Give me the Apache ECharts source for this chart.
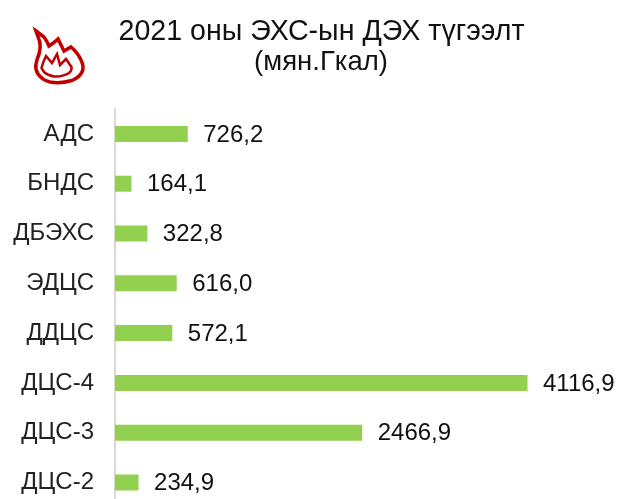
<!DOCTYPE html>
<html><head><meta charset="utf-8">
<style>html,body{margin:0;padding:0;background:#fff}#c{width:619px;height:499px}</style>
<script src="https://cdn.jsdelivr.net/npm/echarts@6/dist/echarts.min.js"></script>
</head><body><div id="c"></div>
<script>
const categories = ['АДС','БНДС','ДБЭХС','ЭДЦС','ДДЦС','ДЦС-4','ДЦС-3','ДЦС-2'];
const values = [726.2,164.1,322.8,616.0,572.1,4116.9,2466.9,234.9];
const titleLine1 = '2021 оны ЭХС-ын ДЭХ түгээлт';
const titleLine2 = '(мян.Гкал)';
const font = '"Liberation Sans", Arial, sans-serif';
echarts.graphic.registerShape('flameOuter', echarts.graphic.extendPath('M36 31 L44 37 Q47 41 49 46 Q54 43 58 39 Q61 45 64 51 L71 47 Q78 53 81 60 Q84 66 82.5 71 Q80 77 72 80.5 Q60 84 50 82 Q42 80 38 74 Q35 69 36 64 Q37 59 39 54 Q41 47 39.5 41 Z', {}));
echarts.graphic.registerShape('flameInner', echarts.graphic.extendPath('M41.5 68 Q43 62 46 56 L52 63 L57 54 L60 65 L66 59 L71.5 67 Q72 71 69 73 Q62 77 54 76.5 Q47 75 44 72 Z', {}));
const chart = echarts.init(document.getElementById('c'), null, {renderer:'canvas'});
chart.setOption({
  animation:false,
  backgroundColor:'#fff',
  title:[
    {text:titleLine1,left:316.5,top:13,textAlign:'center',textStyle:{fontFamily:font,fontSize:28.6,fontWeight:'normal',color:'#111'}},
    {text:titleLine2,left:316,top:43,textAlign:'center',textStyle:{fontFamily:font,fontSize:27.5,fontWeight:'normal',color:'#111'}}
  ],
  grid:{left:115,top:109,width:501,height:398.4,outerBoundsMode:'none'},
  xAxis:{type:'value',min:0,max:5000,show:false},
  yAxis:{type:'category',inverse:true,data:categories,
    axisLine:{show:true,lineStyle:{color:'#d9d9d9',width:2}},
    axisTick:{show:false},
    axisLabel:{fontFamily:font,fontSize:24,color:'#222',margin:21,padding:[2,0,0,0]}},
  series:[{type:'bar',data:values,barWidth:16,
    itemStyle:{color:'#92d050'},
    label:{show:true,position:'right',distance:15.5,offset:[0,1],fontFamily:font,fontSize:24,color:'#111',
      formatter:p=>p.value.toFixed(1).replace('.',',')}}],
  graphic:[{type:'group',silent:true,children:[
    {type:'flameOuter',style:{fill:'none',stroke:'#c00000',lineWidth:3.5,lineJoin:'miter'}},
    {type:'flameInner',style:{fill:'none',stroke:'#c00000',lineWidth:2.5,lineJoin:'miter'}}
  ]}]
});
</script></body></html>
